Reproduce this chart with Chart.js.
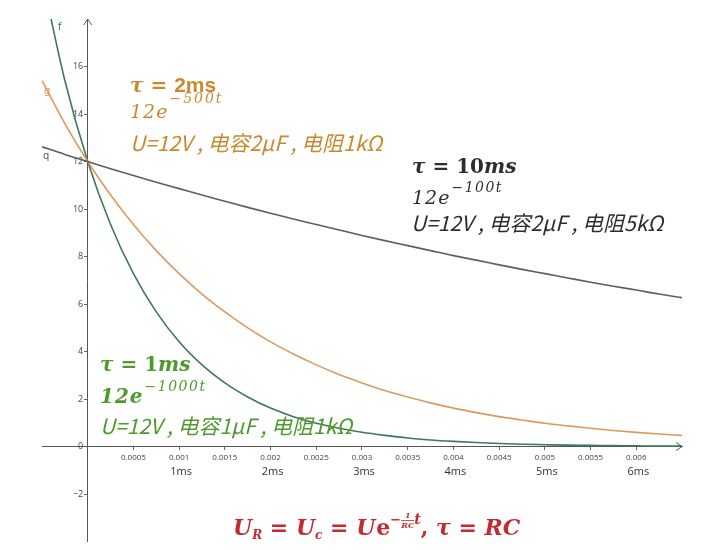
<!DOCTYPE html>
<html>
<head>
<meta charset="utf-8">
<script src="https://cdn.jsdelivr.net/npm/chart.js@4.4.1/dist/chart.umd.min.js"></script>
<style>
  html, body { margin: 0; padding: 0; background: #fff; }
</style>
</head>
<body>
<canvas id="rc-chart" width="726" height="550"></canvas>
<script>
// time samples (s) and the three discharge curves
const tValues = [-0.0005, -0.00025, 0, 0.00025, 0.0005, 0.00075, 0.001, 0.00125, 0.0015, 0.00175,
  0.002, 0.00225, 0.0025, 0.00275, 0.003, 0.00325, 0.0035, 0.00375, 0.004, 0.00425,
  0.0045, 0.00475, 0.005, 0.00525, 0.0055, 0.00575, 0.006, 0.00625, 0.0065];

// f : tau = 1ms
const fValues = [19.78, 15.41, 12, 9.35, 7.28, 5.67, 4.41, 3.44, 2.68, 2.09,
  1.62, 1.26, 0.98, 0.77, 0.60, 0.47, 0.36, 0.28, 0.22, 0.17,
  0.13, 0.10, 0.08, 0.06, 0.05, 0.04, 0.03, 0.02, 0.02];

// g : tau = 2ms
const gValues = [15.41, 13.60, 12, 10.59, 9.35, 8.25, 7.28, 6.42, 5.67, 5.00,
  4.41, 3.90, 3.44, 3.03, 2.68, 2.36, 2.09, 1.84, 1.62, 1.43,
  1.26, 1.12, 0.98, 0.87, 0.77, 0.68, 0.60, 0.53, 0.47];

// q : tau = 10ms
const qValues = [12.62, 12.30, 12, 11.70, 11.41, 11.13, 10.86, 10.59, 10.33, 10.07,
  9.82, 9.58, 9.35, 9.12, 8.89, 8.67, 8.46, 8.25, 8.04, 7.85,
  7.65, 7.46, 7.28, 7.10, 6.92, 6.75, 6.59, 6.42, 6.27];

// second row of labels under the x axis
const msTicks = [0.001, 0.002, 0.003, 0.004, 0.005, 0.006];
const msLabels = ['1ms', '2ms', '3ms', '4ms', '5ms', '6ms'];

const GREEN_LINE = '#3c7a58';
const ORANGE_LINE = '#dc9a5e';
const GRAY_LINE = '#5e5e5e';
const ORANGE_TEXT = '#c98a2e';
const GREEN_TEXT = '#4f9a2c';
const DARK_TEXT = '#2e2e2e';
const RED_TEXT = '#c42a2f';

const toPoints = (ys) => tValues.map((t, i) => ({ x: t, y: ys[i] }));

const SERIF = '"DejaVu Serif", "Liberation Serif", serif';
const SANS = '"Liberation Sans", Arial, sans-serif';
const CJK = '"Noto Sans CJK SC", "Liberation Sans", sans-serif';

// draws a row of differently styled pieces, left to right
function drawRuns(ctx, x, y, parts, color) {
  ctx.fillStyle = color;
  ctx.textAlign = 'left';
  ctx.textBaseline = 'alphabetic';
  parts.forEach((p) => {
    ctx.font = p.font;
    if (p.frac) {
      const wTop = ctx.measureText(p.frac[0]).width;
      const wBot = ctx.measureText(p.frac[1]).width;
      const w = Math.max(wTop, wBot);
      ctx.fillText(p.frac[0], x + (w - wTop) / 2, y + p.dy - 8);
      ctx.fillText(p.frac[1], x + (w - wBot) / 2, y + p.dy + 2);
      ctx.fillRect(x, y + p.dy - 6, w, 0.8);
      x += w + (p.gap || 0);
      return;
    }
    if (p.sp) {
      // spaced out characters, like the typeset exponent lines
      for (const ch of p.text) {
        ctx.fillText(ch, x, y + (p.dy || 0));
        x += ctx.measureText(ch).width + p.sp;
      }
      x += (p.gap || 0) - p.sp;
      return;
    }
    ctx.fillText(p.text, x, y + (p.dy || 0));
    x += ctx.measureText(p.text).width + (p.gap || 0);
  });
}

const annotations = {
  id: 'annotations',
  afterDraw(chart) {
    const ctx = chart.ctx;
    const xs = chart.scales.x;
    const area = chart.chartArea;
    ctx.save();

    // axis arrows
    const y0 = chart.scales.y.getPixelForValue(0);
    const x0 = xs.getPixelForValue(0);
    ctx.strokeStyle = '#555';
    ctx.lineWidth = 1;
    ctx.beginPath();
    ctx.moveTo(area.right - 6, y0 - 4); ctx.lineTo(area.right, y0); ctx.lineTo(area.right - 6, y0 + 4);
    ctx.moveTo(x0 - 4, area.top + 6); ctx.lineTo(x0, area.top); ctx.lineTo(x0 + 4, area.top + 6);
    ctx.stroke();

    // ms row
    ctx.fillStyle = '#333';
    ctx.font = '11px "Open Sans", "DejaVu Sans", sans-serif';
    ctx.textAlign = 'center';
    ctx.textBaseline = 'middle';
    msTicks.forEach((v, i) => ctx.fillText(msLabels[i], xs.getPixelForValue(v) + 2, y0 + 25));

    // curve names
    ctx.font = '10px "DejaVu Sans", sans-serif';
    ctx.textAlign = 'left';
    ctx.fillStyle = GREEN_LINE; ctx.fillText('f', 58, 27);
    ctx.fillStyle = ORANGE_LINE; ctx.fillText('g', 44, 91);
    ctx.fillStyle = GRAY_LINE; ctx.fillText('q', 43, 156);

    const tauFont = 'italic bold 20px ' + SERIF;
    const eqFont = 'bold 20px ' + SERIF;
    const expBase = 'italic 19px ' + SERIF;
    const supFont = 'italic 14px ' + SERIF;
    const cjkFont = 'italic 21px ' + CJK;

    // tau = 2ms block
    drawRuns(ctx, 130, 92, [
      { text: '\u03c4', font: tauFont },
      { text: ' = ', font: eqFont },
      { text: '2ms', font: 'bold 21px ' + SANS }
    ], ORANGE_TEXT);
    drawRuns(ctx, 130, 118, [
      { text: '12e', font: expBase, sp: 1, gap: 2 },
      { text: '\u2212500t', font: supFont, sp: 2, dy: -15 }
    ], ORANGE_TEXT);
    drawRuns(ctx, 130, 151, [{ text: 'U=12V , \u7535\u5bb92\u03bcF , \u7535\u963b1k\u03a9', font: cjkFont }], ORANGE_TEXT);

    // tau = 10ms block
    drawRuns(ctx, 412, 173, [
      { text: '\u03c4', font: tauFont },
      { text: ' = ', font: eqFont },
      { text: '10', font: eqFont },
      { text: 'ms', font: tauFont }
    ], DARK_TEXT);
    drawRuns(ctx, 412, 204, [
      { text: '12e', font: expBase, sp: 1, gap: 2 },
      { text: '\u2212100t', font: supFont, sp: 1.5, dy: -12 }
    ], DARK_TEXT);
    drawRuns(ctx, 411, 231, [{ text: 'U=12V , \u7535\u5bb92\u03bcF , \u7535\u963b5k\u03a9', font: cjkFont }], DARK_TEXT);

    // tau = 1ms block
    drawRuns(ctx, 100, 371, [
      { text: '\u03c4', font: tauFont },
      { text: ' = ', font: eqFont },
      { text: '1', font: eqFont },
      { text: 'ms', font: tauFont }
    ], GREEN_TEXT);
    drawRuns(ctx, 100, 403, [
      { text: '12e', font: 'italic 600 20px ' + SERIF, sp: 1, gap: 2 },
      { text: '\u22121000t', font: supFont, sp: 1.5, dy: -12 }
    ], GREEN_TEXT);
    drawRuns(ctx, 100, 434, [{ text: 'U=12V , \u7535\u5bb91\u03bcF , \u7535\u963b1k\u03a9', font: cjkFont }], GREEN_TEXT);

    // general formula
    const big = 'italic bold 22px ' + SERIF;
    const bigUp = 'bold 22px ' + SERIF;
    const sub = 'italic bold 12px ' + SERIF;
    drawRuns(ctx, 233, 535, [
      { text: 'U', font: big },
      { text: 'R', font: sub, dy: 4 },
      { text: ' = ', font: bigUp },
      { text: 'U', font: big },
      { text: 'c', font: sub, dy: 4 },
      { text: ' = ', font: bigUp },
      { text: 'U', font: big, gap: 1 },
      { text: 'e', font: bigUp },
      { text: '\u2212', font: 'bold 13px ' + SERIF, dy: -11 },
      { frac: ['1', 'RC'], font: 'italic bold 8px ' + SERIF, dy: -9 },
      { text: 't', font: 'italic bold 14px ' + SERIF, dy: -11 },
      { text: ', ', font: bigUp },
      { text: '\u03c4', font: big },
      { text: ' = ', font: bigUp },
      { text: 'RC', font: big }
    ], RED_TEXT);

    ctx.restore();
  }
};

const lineStyle = {
  pointRadius: 0,
  borderWidth: 1.6,
  cubicInterpolationMode: 'monotone',
  fill: false
};

// no tick marks on the clipped ends of the axes
const edgeTick = (lo, hi) => (c) => (c.tick && (Math.abs(c.tick.value - lo) < 1e-9 || Math.abs(c.tick.value - hi) < 1e-9) ? 'rgba(0,0,0,0)' : '#666');

new Chart(document.getElementById('rc-chart').getContext('2d'), {
  type: 'line',
  data: {
    datasets: [
      { label: 'q', data: toPoints(qValues), borderColor: GRAY_LINE, ...lineStyle },
      { label: 'g', data: toPoints(gValues), borderColor: ORANGE_LINE, ...lineStyle },
      { label: 'f', data: toPoints(fValues), borderColor: GREEN_LINE, ...lineStyle }
    ]
  },
  options: {
    responsive: false,
    animation: false,
    layout: { padding: { left: 42, right: 44, top: 19, bottom: 3 } },
    plugins: {
      legend: { display: false },
      tooltip: { enabled: false }
    },
    scales: {
      x: {
        type: 'linear',
        min: -0.0005,
        max: 0.0065,
        position: { y: 0 },
        border: { display: true, color: '#555', width: 1 },
        grid: { color: 'rgba(0,0,0,0)', tickColor: edgeTick(-0.0005, 0.0065), tickLength: 3 },
        ticks: {
          stepSize: 0.0005,
          autoSkip: false,
          maxRotation: 0,
          padding: 3,
          color: '#444',
          font: { size: 8, family: '"Open Sans", "DejaVu Sans", sans-serif' },
          callback: (v) => (v <= 0 || v >= 0.0065 ? '' : String(Number(v.toFixed(4))))
        }
      },
      y: {
        type: 'linear',
        min: -4,
        max: 18,
        position: { x: 0 },
        border: { display: true, color: '#555', width: 1 },
        grid: { color: 'rgba(0,0,0,0)', tickColor: edgeTick(-4, 18), tickLength: 3 },
        ticks: {
          stepSize: 2,
          autoSkip: false,
          color: '#444',
          font: { size: 9, family: '"Open Sans", "DejaVu Sans", sans-serif' },
          // labels sit right on the axis line here, so pad them with an en space
          callback: (v) => (v === 18 || v === -4 ? '' : (v < 0 ? '\u2212' + Math.abs(v) : String(v)) + '\u2002')
        }
      }
    }
  },
  plugins: [annotations]
});
</script>
</body>
</html>
